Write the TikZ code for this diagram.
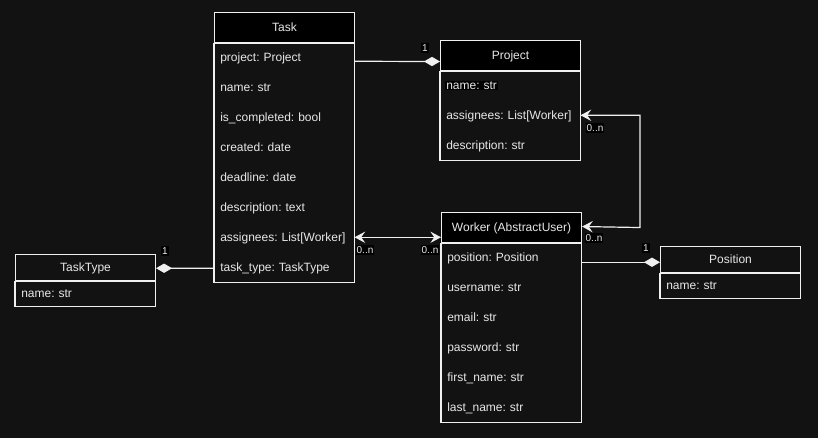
\documentclass[tikz,border=0pt]{standalone}
\usepackage{fontspec}
\setmainfont{Liberation Sans}
\usetikzlibrary{arrows.meta,calc}
\frenchspacing
\definecolor{bg}{HTML}{121212}
\definecolor{linec}{HTML}{F0F0F0}
\definecolor{txt}{HTML}{E8E8E8}
\tikzset{
  every node/.style={font=\fontsize{9}{11}\selectfont, text=txt},
  hdr/.style={draw=linec, line width=0.8pt, fill=black, minimum width=105pt,
    minimum height=22.5pt, inner sep=0pt, anchor=north west,
    text height=7.4pt, text depth=1.4pt},
  hdrflat/.style={hdr, fill=bg, minimum height=19.5pt},
  row/.style={minimum width=105pt, minimum height=22.5pt, inner xsep=4.5pt,
    inner ysep=0pt, text width=96pt, align=left, anchor=north west,
    text height=7.4pt, text depth=1.4pt},
  rowflat/.style={row, minimum height=19.5pt},
  frame/.style={draw=linec, line width=0.8pt},
  conn/.style={draw=linec, line width=0.9pt},
  compo/.style={conn, -{Diamond[length=12pt,width=7pt,fill=linec]}},
  many/.style={conn, {Stealth[length=8pt,width=8.5pt,inset=3pt]}-{Stealth[length=8pt,width=8.5pt,inset=3pt]}},
  mult/.style={fill=black, inner sep=0.8pt, font=\fontsize{7.5}{8}\selectfont},
}
\newcommand{\hilite}[1]{{\setlength{\fboxsep}{0.6pt}\colorbox{black}{#1}}}
\begin{document}
\begin{tikzpicture}[x=0.75pt,y=-0.75pt]
  \fill[bg] (0,0) rectangle (818,438);
  \useasboundingbox (0,0) rectangle (818,438);

  % Task
  \node[hdr] (th) at (214,12) {Task};
  \node[row] (t1) at (214,42) {project: Project};
  \node[row] (t2) at (214,72) {name: str};
  \node[row] (t3) at (214,102) {is\_completed: bool};
  \node[row] (t4) at (214,132) {created: date};
  \node[row] (t5) at (214,162) {deadline: date};
  \node[row] (t6) at (214,192) {description: text};
  \node[row] (t7) at (214,222) {assignees: List[Worker]};
  \node[row] (t8) at (214,252) {task\_type: TaskType};
  \draw[frame] (th.south west) rectangle (t8.south east);

  % Project
  \node[hdr] (ph) at (440,40) {Project};
  \node[row] (p1) at (440,70) {\hspace*{-0.6pt}\hilite{name: str}};
  \node[row] (p2) at (440,100) {assignees: List[Worker]};
  \node[row] (p3) at (440,130) {description: str};
  \draw[frame] (ph.south west) rectangle (p3.south east);

  % TaskType
  \node[hdrflat] (yh) at (15,254) {TaskType};
  \node[rowflat] (y1) at (15,280) {name: str};
  \draw[frame] (yh.south west) rectangle (y1.south east);

  % Worker
  \node[hdr] (wh) at (441,212) {Worker (AbstractUser)};
  \node[row] (w1) at (441,242) {position: Position};
  \node[row] (w2) at (441,272) {username: str};
  \node[row] (w3) at (441,302) {email: str};
  \node[row] (w4) at (441,332) {password: str};
  \node[row] (w5) at (441,362) {first\_name: str};
  \node[row] (w6) at (441,392) {last\_name: str};
  \draw[frame] (wh.south west) rectangle (w6.south east);

  % Position
  \node[hdrflat] (sh) at (660,246) {Position};
  \node[rowflat] (s1) at (660,272) {name: str};
  \draw[frame] (sh.south west) rectangle (s1.south east);

  % Task -> Project
  \draw[compo] ($(t1.east)+(0,4)$) -- ($(ph.west)+(0,6)$);
  \node[mult] (m1) at (425,48) {1};

  % Task -> TaskType
  \draw[compo] ($(t8.west)+(0,1)$) -- ($(yh.east)+(0,0.7)$);
  \node[mult] (m2) at (165,251) {1};

  % Task <-> Worker
  \draw[many] (t7.east) -- (wh.west |- t7.east);
  \node[mult] (m3) at (365,250) {0..n};
  \node[mult] (m4) at (430,250) {0..n};

  % Project <-> Worker
  \coordinate (bend) at (640,0);
  \draw[many] (p2.east) -| (bend |- wh.east) -- ($(wh.east)+(0,-1)$);
  \node[mult] (m5) at (595,128) {0..n};
  \node[mult] (m6) at (594,238) {0..n};

  % Worker -> Position
  \draw[compo] ($(w1.east)+(0,5)$) -- (sh.west |- {$(w1.east)+(0,5)$});
  \node[mult] (m7) at (646,248) {1};
\end{tikzpicture}
\end{document}
